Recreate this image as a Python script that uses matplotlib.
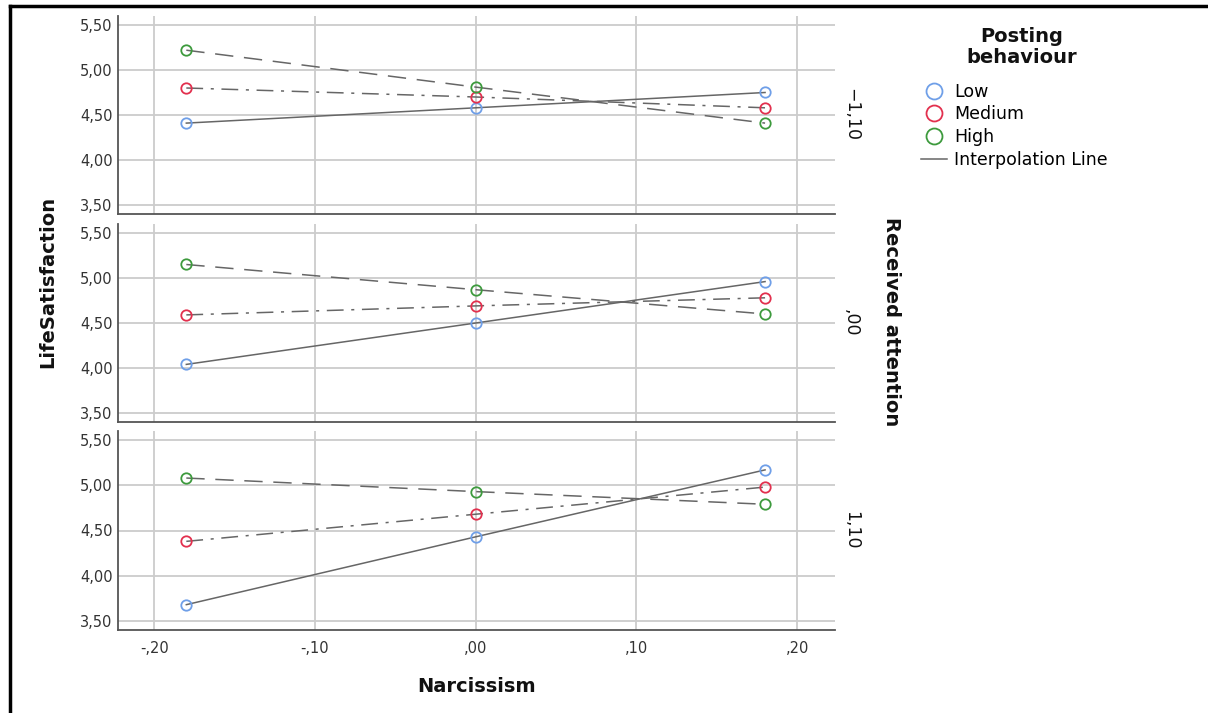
import matplotlib
matplotlib.use('Agg')
import matplotlib.pyplot as plt
from matplotlib.lines import Line2D
from matplotlib.ticker import FuncFormatter, MultipleLocator

# Narcissism (centred) values where the simple slopes are evaluated
narcissism = [-0.18, 0.00, 0.18]

# Received attention levels (one panel each)
attention_levels = ['\u22121,10', ',00', '1,10']

# LifeSatisfaction estimates per panel, per posting behaviour group
low_vals = [[4.41, 4.58, 4.75],
            [4.04, 4.50, 4.96],
            [3.68, 4.43, 5.17]]
medium_vals = [[4.80, 4.70, 4.58],
               [4.59, 4.69, 4.78],
               [4.38, 4.68, 4.98]]
high_vals = [[5.22, 4.81, 4.41],
             [5.15, 4.87, 4.60],
             [5.08, 4.93, 4.79]]

group_names = ['Low', 'Medium', 'High']
group_colors = ['#6f9fe8', '#e2304e', '#3d9a3d']
group_dashes = [None, (11, 5, 2, 5), (12, 7)]

W, H = 1208, 713
fig = plt.figure(figsize=(W / 100, H / 100), dpi=100)

# panel pixel boxes (top, bottom)
panel_px = [(16, 214), (224, 422), (431, 630)]
left_px, right_px = 118, 835

line_col = '#666666'
grid_col = '#cccccc'
spine_col = '#555555'
tick_col = '#333333'

def fmt_num(v, pos=None):
    s = f'{v:.2f}'.replace('.', ',')
    if s.startswith('0,'):
        s = s[1:]
    elif s.startswith('-0,'):
        s = '-' + s[2:]
    return s

axes = []
for i, (top, bot) in enumerate(panel_px):
    ax = fig.add_axes([left_px / W, 1 - bot / H, (right_px - left_px) / W, (bot - top) / H])
    axes.append(ax)
    ax.set_xlim(-0.2225, 0.2235)
    ax.set_ylim(3.40, 5.60)
    ax.yaxis.set_major_locator(MultipleLocator(0.5))
    ax.xaxis.set_major_locator(MultipleLocator(0.1))
    ax.yaxis.set_major_formatter(FuncFormatter(fmt_num))
    ax.xaxis.set_major_formatter(FuncFormatter(fmt_num))
    ax.grid(True, color=grid_col, linewidth=1.3)
    ax.set_axisbelow(True)
    for s in ['top', 'right']:
        ax.spines[s].set_visible(False)
    for s in ['left', 'bottom']:
        ax.spines[s].set_color(spine_col)
        ax.spines[s].set_linewidth(1.3)
    ax.tick_params(length=0, labelsize=10.5, colors=tick_col)
    ax.tick_params(axis='y', pad=4)
    ax.tick_params(axis='x', pad=8)
    if i < 2:
        ax.tick_params(labelbottom=False)

    for vals, col, dash in zip([low_vals[i], medium_vals[i], high_vals[i]], group_colors, group_dashes):
        ln, = ax.plot(narcissism, vals, color=line_col, linewidth=1.1, zorder=3)
        if dash is not None:
            ln.set_dashes(dash)
        ax.plot(narcissism, vals, linestyle='none', marker='o', markersize=7.5,
                markerfacecolor='none', markeredgecolor=col, markeredgewidth=1.3, zorder=4)

    # facet label on the right
    fig.text(851 / W, 1 - (top + bot) / 2 / H, attention_levels[i], rotation=270,
             ha='center', va='center', fontsize=12.5, color='#111111')

fig.text(891 / W, 1 - 322 / H, 'Received attention', rotation=270, ha='center', va='center',
         fontsize=14, fontweight='bold', color='#111111')
fig.text(48 / W, 1 - 282 / H, 'LifeSatisfaction', rotation=90, ha='center', va='center',
         fontsize=14, fontweight='bold', color='#111111')
fig.text(477 / W, 1 - 686 / H, 'Narcissism', ha='center', va='center',
         fontsize=14, fontweight='bold', color='#111111')

# legend (title drawn separately so its gap to the entries can match)
fig.text(1022 / W, 1 - 47 / H, 'Posting\nbehaviour', ha='center', va='center',
         multialignment='center', linespacing=1.15, fontsize=14, fontweight='bold', color='#111111')
handles = [Line2D([], [], linestyle='none', marker='o', markersize=11.5, markerfacecolor='none',
                  markeredgecolor=c, markeredgewidth=1.3) for c in group_colors]
handles.append(Line2D([], [], color=line_col, linewidth=1.1))
leg = fig.legend(handles, group_names + ['Interpolation Line'], loc='upper left',
                 bbox_to_anchor=(905 / W, 1 - 67 / H), frameon=False, fontsize=12.5,
                 handlelength=1.5, handletextpad=0.45, labelspacing=0.28)

# outer frame (left and top edges)
fig.add_artist(Line2D([10 / W, 10 / W], [0, 1 - 6 / H], color='black', linewidth=2.5))
fig.add_artist(Line2D([10 / W, 1], [1 - 6 / H, 1 - 6 / H], color='black', linewidth=2.5))

fig.savefig('out.png', dpi=100)
